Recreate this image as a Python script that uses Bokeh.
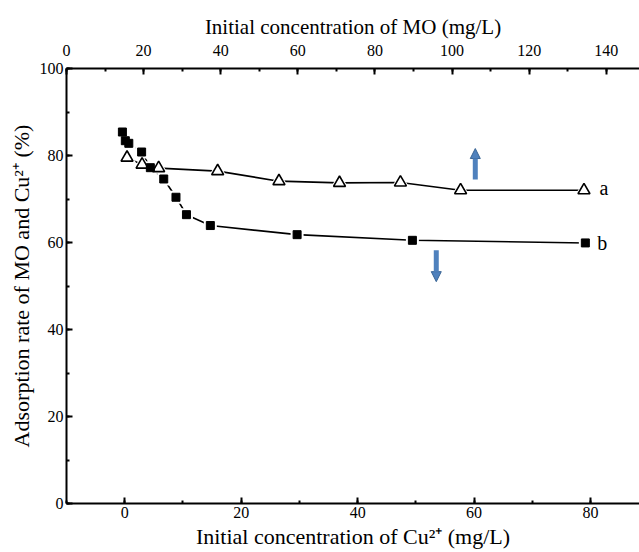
from bokeh.plotting import figure
from bokeh.models import LinearAxis, Range1d, SingleIntervalTicker, Arrow, NormalHead, Label
from bokeh.embed import file_html
from bokeh.resources import INLINE

# Series b: Cu2+ (bottom axis), filled squares
cu_x = [-0.4, 0.1, 0.7, 2.9, 4.4, 6.7, 8.8, 10.6, 14.7, 29.6, 49.4, 79.1]
cu_y = [85.4, 83.4, 82.8, 80.8, 77.2, 74.6, 70.4, 66.4, 63.9, 61.8, 60.5, 59.9]

# Series a: MO (top axis), open triangles
mo_x = [15.7, 19.6, 23.9, 39.2, 55.1, 70.8, 86.6, 102.2, 134.2]
mo_y = [79.5, 77.9, 77.1, 76.4, 74.1, 73.7, 73.8, 72.0, 72.0]

# Annotation positions (bottom-axis data coords)
arrow_up_x = [60.2, 60.2]      # start, end
arrow_up_y = [74.5, 81.6]
arrow_dn_x = [53.5, 53.5]
arrow_dn_y = [58.2, 51.0]
label_text = ["a", "b"]
label_x = [82.3, 82.0]
label_y = [72.6, 60.0]

FONT = "Liberation Serif"

p = figure(width=639, height=552, x_range=Range1d(-10, 88.4), y_range=Range1d(0, 100),
           output_backend="svg", toolbar_location=None,
           min_border_left=66, min_border_top=68, min_border_bottom=49, min_border_right=0)
p.extra_x_ranges = {"mo": Range1d(0, 148.6)}
p.xgrid.visible = False
p.ygrid.visible = False
p.outline_line_color = None
p.background_fill_color = "white"
p.border_fill_color = "white"

bottom = p.below[0]
left = p.left[0]
bottom.ticker = SingleIntervalTicker(interval=20, num_minor_ticks=2)
left.ticker = SingleIntervalTicker(interval=20, num_minor_ticks=2)
bottom.axis_label = "Initial concentration of Cu²⁺ (mg/L)"
left.axis_label = "Adsorption rate of MO and Cu²⁺ (%)"

top = LinearAxis(x_range_name="mo", ticker=SingleIntervalTicker(interval=20, num_minor_ticks=2),
                 axis_label="Initial concentration of MO (mg/L)")
p.add_layout(top, "above")

for ax in [bottom, left, top]:
    ax.axis_line_width = 2
    ax.axis_line_color = "black"
    ax.major_tick_in = 6
    ax.major_tick_out = 0
    ax.minor_tick_in = 3
    ax.minor_tick_out = 0
    ax.major_tick_line_width = 2
    ax.minor_tick_line_width = 2
    ax.major_label_text_font = FONT
    ax.major_label_text_font_size = "16px"
    ax.major_label_text_color = "black"
    ax.axis_label_text_font = FONT
    ax.axis_label_text_font_size = "22px"
    ax.axis_label_text_font_style = "normal"
    ax.axis_label_text_color = "black"
    ax.major_label_standoff = 3
    ax.axis_label_standoff = 3

top.major_label_standoff = 13
top.axis_label_text_font_size = "21px"

# Lines
p.line(mo_x, mo_y, x_range_name="mo", line_color="black", line_width=1.6)
p.line(cu_x, cu_y, line_color="black", line_width=1.6)

# White halos to leave small gaps in the lines around markers
p.scatter(mo_x, mo_y, x_range_name="mo", marker="triangle", size=18,
          fill_color="white", line_color=None)
p.scatter(cu_x, cu_y, marker="square", size=13, fill_color="white", line_color=None)

# Markers
p.scatter(mo_x, mo_y, x_range_name="mo", marker="triangle", size=12,
          fill_color="white", line_color="black", line_width=1.6)
p.scatter(cu_x, cu_y, marker="square", size=8, fill_color="black", line_color="black")

# Arrows
for xs, ys in [(arrow_up_x, arrow_up_y), (arrow_dn_x, arrow_dn_y)]:
    p.add_layout(Arrow(end=NormalHead(size=10, fill_color="#4F81BD", line_color="#3A6595", line_width=1),
                       x_start=xs[0], y_start=ys[0], x_end=xs[1], y_end=ys[1],
                       line_color="#4F81BD", line_width=5))

for t, lx, ly in zip(label_text, label_x, label_y):
    p.add_layout(Label(x=lx, y=ly, text=t, text_font=FONT, text_font_size="20px",
                       text_align="center", text_baseline="middle", text_color="black"))

open("out.html", "w").write(file_html(p, INLINE))
